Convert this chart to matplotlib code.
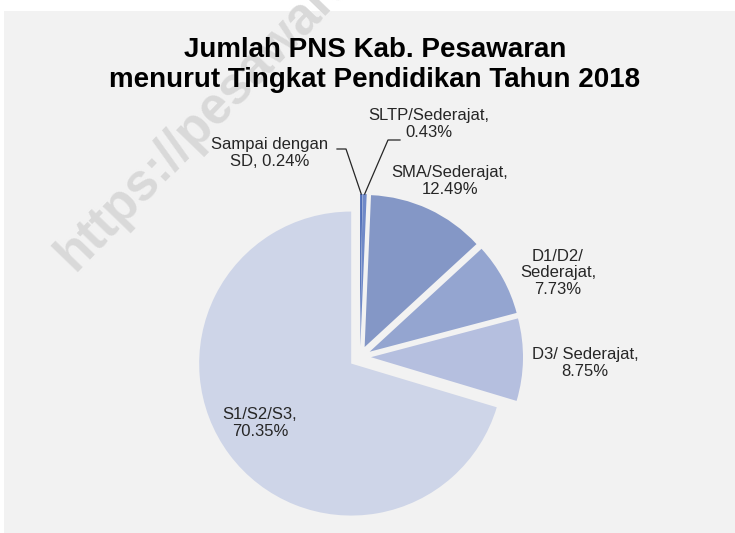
import numpy as np
import matplotlib
matplotlib.use('Agg')
from matplotlib import pyplot as plt
from matplotlib.patches import Rectangle

W, H = 735, 533

categories = ['Sampai dengan\nSD', 'SLTP/Sederajat,\n', 'SMA/Sederajat,\n', 'D1/D2/\nSederajat,\n', 'D3/ Sederajat,\n', 'S1/S2/S3,\n']
shares = [0.24, 0.43, 12.49, 7.73, 8.75, 70.35]
colors = ['#4F6EB8', '#6F89C8', '#8497C6', '#94A5D0', '#B5BFDF', '#CED5E8']

plt.rcParams['font.family'] = ['Liberation Sans', 'DejaVu Sans']

fig = plt.figure(figsize=(W / 100, H / 100), dpi=100, facecolor='white')
ax = fig.add_axes([0, 0, 1, 1])

# image y (from top) -> data y
def fy(y):
  return H - y

ax.add_patch(Rectangle((4, 0), W - 4, H - 11, color='#F2F2F2', zorder=0, lw=0))

# watermark
ax.text(74, fy(272), 'https://pesawaran.go.id', rotation=46, rotation_mode='anchor',
        ha='left', va='baseline', fontsize=37, fontweight='bold', color='#D9D9D9',
        zorder=0.5, clip_on=False)

# explode is an absolute offset in data units (pixels here)
cx, cy, r, ex = 360, fy(357), 152, 11
wedges, _ = ax.pie(shares, colors=colors, startangle=90, counterclock=False,
                   radius=r, center=(cx, cy), explode=[ex] * len(shares),
                   wedgeprops=dict(linewidth=0))

ax.set_xlim(0, W)
ax.set_ylim(0, H)
ax.set_aspect('auto')
ax.axis('off')

ax.text(375, fy(65), 'Jumlah PNS Kab. Pesawaran\nmenurut Tingkat Pendidikan Tahun 2018',
        ha='center', va='center', fontsize=20, fontweight='bold', color='black',
        linespacing=1.22)

# label text positions (image pixels)
label_pos = [(270, 153), (429, 124), (450, 181), (558, 273), (585, 363), (260, 423)]
for i, (lab, s) in enumerate(zip(categories, shares)):
  txt = lab
  if lab.endswith('\n'):
    txt = lab + '{:.2f}%'.format(s)
  else:
    txt = lab + ', {:.2f}%'.format(s)
  x, y = label_pos[i]
  ax.text(x, fy(y), txt, ha='center', va='center', fontsize=12, color='#262626',
          linespacing=1.15, zorder=5)

# leader lines for the two thin slices
elbows = [[(337, 149), (346, 149)], [(400, 140), (388, 140)]]
for i in range(2):
  w = wedges[i]
  mid = np.deg2rad((w.theta1 + w.theta2) / 2)
  px = w.center[0] + r * np.cos(mid)
  py = w.center[1] + r * np.sin(mid)
  xs = [p[0] for p in elbows[i]] + [px]
  ys = [fy(p[1]) for p in elbows[i]] + [py]
  ax.plot(xs, ys, color='#262626', lw=0.9, zorder=5)

fig.savefig('out.png', dpi=100, facecolor='white')
